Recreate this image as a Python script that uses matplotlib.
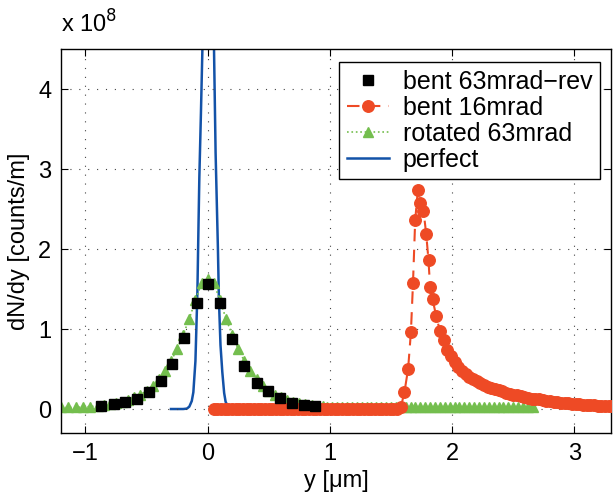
import matplotlib
matplotlib.use("Agg")
import matplotlib.pyplot as plt
import numpy as np

plt.rcParams['font.family'] = ['Liberation Sans', 'DejaVu Sans']

# values in units of 1e8 counts/m
bent_rev_x = [-0.87, -0.77, -0.68, -0.58, -0.48, -0.38, -0.29, -0.19, -0.09, 0.0,
              0.10, 0.20, 0.30, 0.40, 0.49, 0.59, 0.69, 0.79, 0.88]
bent_rev_y = [0.04, 0.06, 0.09, 0.125, 0.21, 0.35, 0.56, 0.89, 1.33, 1.56,
              1.33, 0.88, 0.54, 0.32, 0.22, 0.14, 0.08, 0.055, 0.04]

bent16_x = [0.05, 0.08, 0.11, 0.14, 0.17, 0.20, 0.23, 0.26, 0.29, 0.32, 0.35, 0.38,
            0.41, 0.44, 0.47, 0.50, 0.53, 0.56, 0.59, 0.62, 0.65, 0.68, 0.71, 0.74,
            0.77, 0.80, 0.83, 0.86, 0.89, 0.92, 0.95, 0.98, 1.01, 1.04, 1.07, 1.10,
            1.13, 1.16, 1.19, 1.22, 1.25, 1.28, 1.31, 1.34, 1.37, 1.40, 1.43, 1.46,
            1.49, 1.52, 1.55, 1.58,
            1.61, 1.64, 1.663, 1.68, 1.698, 1.72, 1.74, 1.766, 1.788, 1.807, 1.82,
            1.84, 1.87, 1.90, 1.93, 1.96, 1.99, 2.02, 2.05, 2.08, 2.11, 2.14, 2.17,
            2.20, 2.23, 2.26, 2.29, 2.32, 2.35, 2.38, 2.41, 2.44, 2.47, 2.50, 2.53,
            2.56, 2.59, 2.62, 2.65, 2.68, 2.71, 2.74, 2.77, 2.80, 2.83, 2.86, 2.89,
            2.92, 2.95, 2.98, 3.01, 3.04, 3.07, 3.10, 3.13, 3.16, 3.19, 3.22, 3.25,
            3.28, 3.31]
bent16_y = [0.0, 0.0, 0.0, 0.0, 0.0, 0.0, 0.0, 0.0, 0.0, 0.0, 0.0, 0.0,
            0.0, 0.0, 0.0, 0.0, 0.0, 0.0, 0.0, 0.0, 0.0, 0.0, 0.0, 0.0,
            0.0, 0.0, 0.0, 0.0, 0.0, 0.0, 0.0, 0.0, 0.0, 0.0, 0.0, 0.0,
            0.0, 0.0, 0.0, 0.0, 0.0, 0.0, 0.0, 0.0, 0.0, 0.0, 0.0, 0.0,
            0.0, 0.0, 0.005, 0.02,
            0.21, 0.50, 0.96, 1.57, 2.36, 2.74, 2.58, 2.48, 2.19, 1.86, 1.52,
            1.375, 1.16, 0.98, 0.86, 0.74, 0.66, 0.59, 0.53, 0.48, 0.44, 0.40, 0.37,
            0.345, 0.32, 0.30, 0.28, 0.265, 0.25, 0.235, 0.22, 0.205, 0.19, 0.18, 0.17,
            0.16, 0.15, 0.14, 0.13, 0.125, 0.12, 0.11, 0.105, 0.10, 0.09, 0.085, 0.08,
            0.075, 0.07, 0.065, 0.06, 0.058, 0.055, 0.05, 0.048, 0.045, 0.043, 0.04, 0.04,
            0.038, 0.036]

rot_x = [-1.20, -1.14, -1.08, -1.02, -0.96, -0.90, -0.85, -0.80, -0.75, -0.70, -0.65,
         -0.60, -0.55, -0.50, -0.45, -0.40, -0.35, -0.30, -0.25, -0.20, -0.15, -0.10,
         -0.05, 0.0, 0.05, 0.10, 0.15, 0.20, 0.25, 0.30, 0.35, 0.40, 0.45, 0.50, 0.55,
         0.60, 0.65, 0.70, 0.75, 0.80, 0.85, 0.90, 0.94, 0.98, 1.02, 1.06, 1.10, 1.14,
         1.18, 1.22, 1.26, 1.30, 1.34, 1.38, 1.42, 1.46, 1.50, 1.54, 1.58, 1.62, 1.66,
         1.70, 1.74, 1.78, 1.82, 1.86, 1.90, 1.94, 1.98, 2.02, 2.06, 2.10, 2.14, 2.18,
         2.22, 2.26, 2.30, 2.34, 2.38, 2.42, 2.46, 2.50, 2.54, 2.58, 2.62, 2.66]
rot_y = [0.02, 0.02, 0.02, 0.025, 0.03, 0.04, 0.05, 0.06, 0.075, 0.09, 0.115,
         0.145, 0.18, 0.23, 0.29, 0.37, 0.47, 0.60, 0.75, 0.93, 1.13, 1.36,
         1.57, 1.62, 1.58, 1.36, 1.13, 0.93, 0.75, 0.60, 0.47, 0.37, 0.29, 0.23, 0.18,
         0.145, 0.115, 0.09, 0.075, 0.06, 0.05, 0.04, 0.035, 0.03, 0.03, 0.025, 0.025, 0.02,
         0.02, 0.02, 0.02, 0.02, 0.02, 0.02, 0.02, 0.02, 0.02, 0.02, 0.02, 0.02, 0.02,
         0.02, 0.02, 0.02, 0.02, 0.02, 0.02, 0.02, 0.02, 0.02, 0.02, 0.02, 0.02, 0.02,
         0.02, 0.02, 0.02, 0.02, 0.02, 0.02, 0.02, 0.02, 0.02, 0.02, 0.02, 0.02]

perf_x = [-0.30, -0.20, -0.17, -0.15, -0.13, -0.117, -0.10, -0.084, -0.075, -0.068,
          -0.055, -0.043, -0.02, 0.005, 0.03, 0.052, 0.065, 0.084, 0.092, 0.105, 0.12,
          0.135, 0.147, 0.17, 0.20, 0.30]
perf_y = [0.0, 0.0, 0.005, 0.03, 0.10, 0.21, 0.6, 1.46, 2.29, 2.9,
          3.7, 4.5, 6.5, 7.5, 6.5, 4.5, 3.2, 2.0, 1.375, 0.8, 0.46,
          0.2, 0.09, 0.02, 0.0, 0.0]

xticks = [-1, 0, 1, 2, 3]
yticks = [0, 1, 2, 3, 4]

fig = plt.figure(figsize=(6.13, 4.96), dpi=100)
ax = fig.add_axes([0.0995, 0.127, 0.8972, 0.774])

red = '#EE4A25'
green = '#74BE4E'
blue = '#1352A8'

ax.plot(perf_x, perf_y, '-', color=blue, lw=1.8, zorder=1, label='perfect')
ax.plot(rot_x, rot_y, ':', color=green, lw=1.2, marker='^', ms=7.6,
        mfc=green, mec=green, zorder=2, label='rotated 63mrad')
ax.plot(bent16_x, bent16_y, '--', color=red, lw=1.5, marker='o', ms=8.3,
        mfc=red, mec=red, dashes=(6, 4), zorder=3, label='bent 16mrad')
ax.plot(bent_rev_x, bent_rev_y, 's', color='black', ms=7.0, zorder=4,
        label='bent 63mrad\u2212rev', linestyle='none')

ax.set_xlim(-1.2, 3.3)
ax.set_ylim(-0.3, 4.5)
ax.set_xticks(xticks)
ax.set_yticks(yticks)
ax.set_xticklabels(['\u22121', '0', '1', '2', '3'])
ax.tick_params(direction='in', top=True, right=True, labelsize=17, length=5, width=0.8, pad=7)
ax.grid(True, linestyle=(0, (1, 7)), color='#444444', lw=0.8)
for s in ax.spines.values():
    s.set_linewidth(1.0)

ax.set_xlabel('y [\u03bcm]', fontsize=17, labelpad=4)
ax.set_ylabel('dN/dy [counts/m]', fontsize=17, labelpad=6)
fig.text(0.1, 0.925, 'x 10$^{8}$', fontsize=17, ha='left', va='bottom')

h, l = ax.get_legend_handles_labels()
order = [3, 2, 1, 0]
leg = ax.legend([h[i] for i in order], [l[i] for i in order], loc='upper right',
                bbox_to_anchor=(0.98, 0.966), borderaxespad=0.0, fontsize=18,
                frameon=True, fancybox=False,
                edgecolor='black', framealpha=1, handlelength=1.7, borderpad=0.3,
                labelspacing=0.08, handletextpad=0.55, numpoints=1)
leg.get_frame().set_linewidth(1.0)

fig.savefig('out.png', dpi=100)
